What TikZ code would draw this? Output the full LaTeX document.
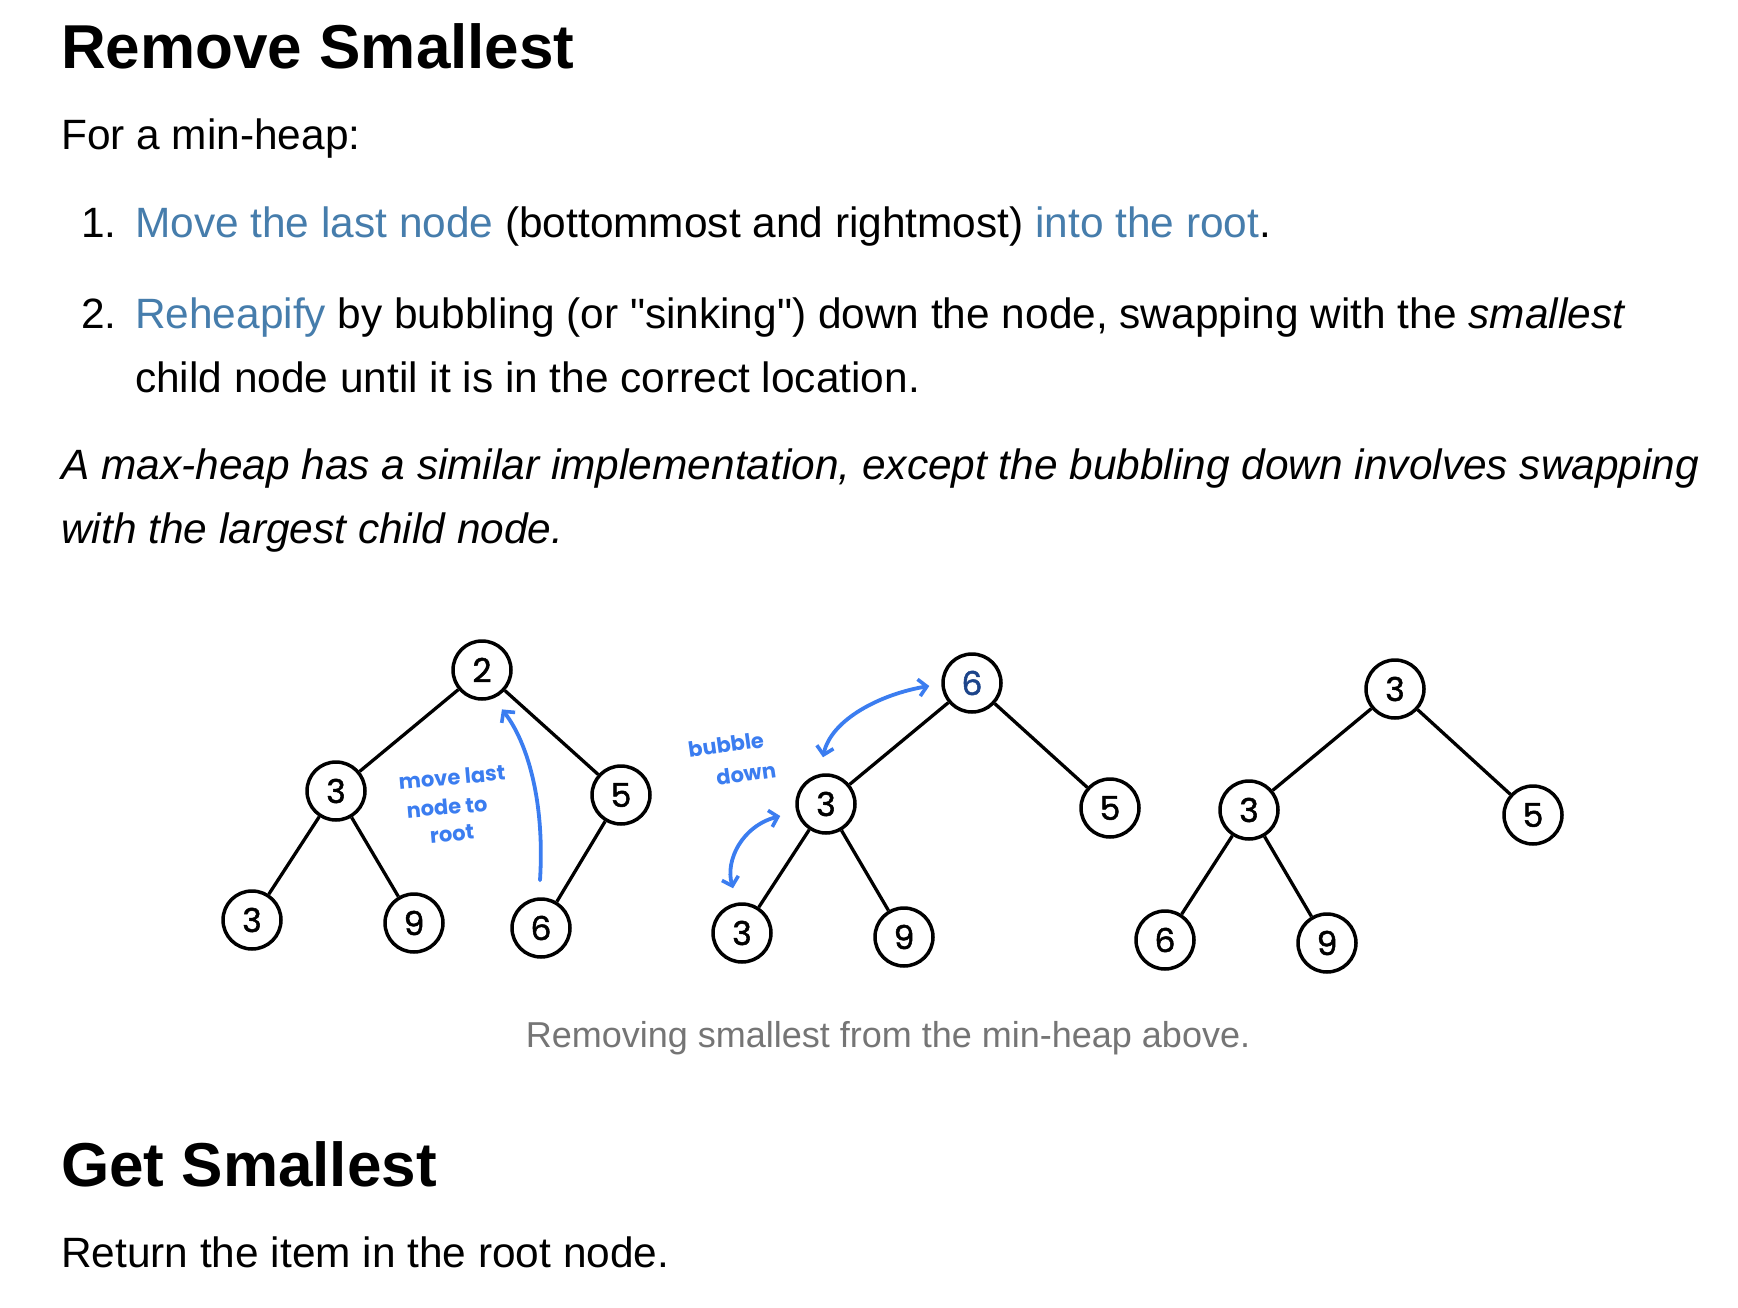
\documentclass[tikz,border=0pt]{standalone}
\usepackage{fontspec}
\setmainfont{Liberation Sans}[Ligatures=TeXOff]
\newfontfamily\handfont{Poppins}
\newfontfamily\digitfont{Poppins}[FakeBold=1.5]
\usetikzlibrary{arrows.meta,calc}
\definecolor{linkblue}{RGB}{70,125,172}
\definecolor{penblue}{RGB}{59,125,240}
\definecolor{inkblue}{RGB}{28,68,138}
\definecolor{capgray}{RGB}{117,117,117}

\begin{document}
\begin{tikzpicture}[x=1pt,y=-1pt,
  heading/.style={anchor=base west,inner sep=0pt,font=\bfseries\fontsize{62}{62}\selectfont},
  body/.style={anchor=base west,inner sep=0pt,font=\fontsize{42.4}{42.4}\selectfont},
  caption/.style={anchor=base,inner sep=0pt,text=capgray,font=\fontsize{36}{36}\selectfont},
  heapnode/.style={circle,draw=black,line width=3.5pt,minimum size=58pt,inner sep=0pt,
    font=\digitfont\fontsize{33}{33}\selectfont},
  edge/.style={line width=3.3pt},
  note/.style={inner sep=0pt,text=penblue,font=\handfont\bfseries\fontsize{21}{21}\selectfont},
  barb/.tip={Straight Barb[length=8pt,width=17pt,line width=3.6pt]},
  pen/.style={draw=penblue,line width=3.8pt,line cap=round},
]
\useasboundingbox[fill=white] (0,0) rectangle (1738,1308);

% ---- text ----
\node[heading] (h1) at (61,69) {Remove Smallest};
\node[body] (intro) at (61,150) {For a min-heap:};
\node[body] (n1) at (81,238) {1.};
\node[body] (i1) at (135,238) {\textcolor{linkblue}{Move the last node} (bottommost and rightmost) \textcolor{linkblue}{into the root}.};
\node[body] (n2) at (81,328) {2.};
\node[body] (i2a) at (135,328) {\textcolor{linkblue}{Reheapify} by bubbling (or "sinking") down the node, swapping with the \textit{smallest}};
\node[body] (i2b) at (135,392) {child node until it is in the correct location.};
\node[body,font=\itshape\fontsize{42.4}{42.4}\selectfont] (m1) at (61,479) {A max-heap has a similar implementation, except the bubbling down involves swapping};
\node[body,font=\itshape\fontsize{42.4}{42.4}\selectfont] (m2) at (61,543) {with the largest child node.};
\node[caption] (cap) at (888,1047) {Removing smallest from the min-heap above.};
\node[heading] (h2) at (61,1186) {Get Smallest};
\node[body] (ret) at (61,1267) {Return the item in the root node.};

% ---- heap 1: before removal ----
\node[heapnode] (t1r)  at (482,670) {2};
\node[heapnode] (t1l)  at (336,791) {3};
\node[heapnode] (t1rr) at (621,795) {5};
\node[heapnode] (t1ll) at (252,920) {3};
\node[heapnode] (t1lr) at (414,923) {9};
\node[heapnode] (t1c)  at (541,928) {6};
\draw[edge] (t1r) -- (t1l);
\draw[edge] (t1r) -- (t1rr);
\draw[edge] (t1l) -- (t1ll);
\draw[edge] (t1l) -- (t1lr);
\draw[edge] (t1rr) -- (t1c);
\draw[pen,-{barb}] (t1c.north) ++(-1,-17) coordinate (a1s)
  .. controls +(5,-80) and +(25,32) .. ($(t1r.-63)+(6,12)$);
\node[note,rotate=5] (lab1a) at (452,777) {move last};
\node[note,rotate=5] (lab1b) at (447,807) {node to};
\node[note,rotate=5] (lab1c) at (452,834) {root};

% ---- heap 2: last node moved to the root ----
\node[heapnode,text=inkblue] (t2r) at (972,683) {6};
\node[heapnode] (t2l)  at (826,804) {3};
\node[heapnode] (t2rr) at (1110,808) {5};
\node[heapnode] (t2ll) at (742,933) {3};
\node[heapnode] (t2lr) at (904,937) {9};
\draw[edge] (t2r) -- (t2l);
\draw[edge] (t2r) -- (t2rr);
\draw[edge] (t2l) -- (t2ll);
\draw[edge] (t2l) -- (t2lr);
\draw[pen,{barb}-{barb}] ($(t2l.north)+(-3,-16)$)
  .. controls +(8,-38) and +(-48,8) .. ($(t2r.west)+(-12,3)$);
\draw[pen,{barb}-{barb}] ($(t2ll.north)+(-9,-14)$)
  .. controls +(-8,-28) and +(-38,10) .. ($(t2l.west)+(-15,12)$);
\node[note,rotate=8] (lab2a) at (726,745) {bubble};
\node[note,rotate=8] (lab2b) at (746,774) {down};

% ---- heap 3: after reheapify ----
\node[heapnode] (t3r)  at (1395,689) {3};
\node[heapnode] (t3l)  at (1249,810) {3};
\node[heapnode] (t3rr) at (1533,815) {5};
\node[heapnode] (t3ll) at (1165,940) {6};
\node[heapnode] (t3lr) at (1327,943) {9};
\draw[edge] (t3r) -- (t3l);
\draw[edge] (t3r) -- (t3rr);
\draw[edge] (t3l) -- (t3ll);
\draw[edge] (t3l) -- (t3lr);
\end{tikzpicture}
\end{document}
